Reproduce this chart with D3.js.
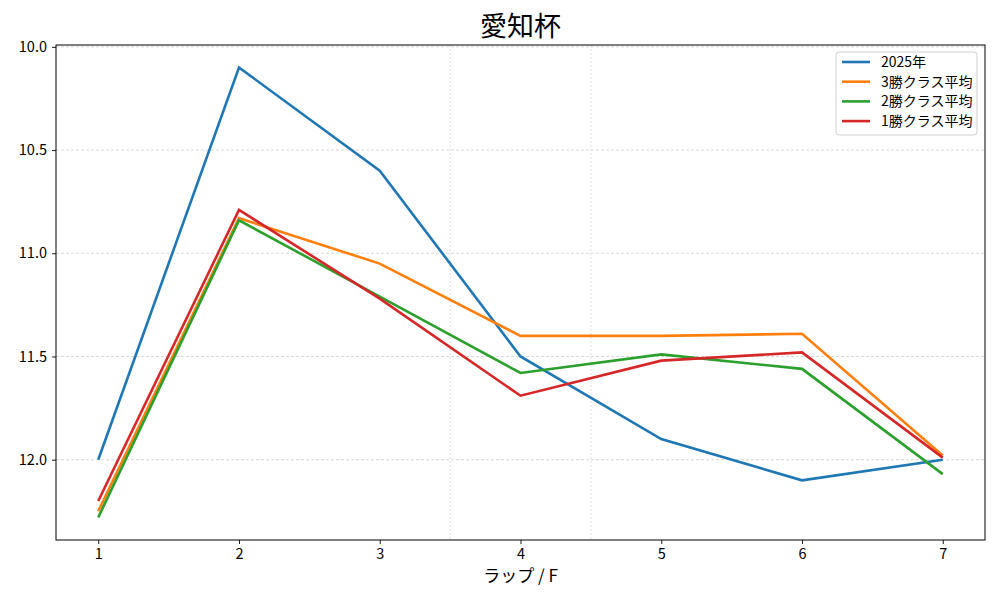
<!DOCTYPE html>
<html>
<head>
<meta charset="utf-8">
<script src="https://cdn.jsdelivr.net/npm/d3@7"></script>
<style>
  body { margin: 0; background: #fff; }
  text { font-family: "Noto Sans CJK JP", "DejaVu Sans", sans-serif; fill: #000; }
</style>
</head>
<body>
<div id="chart"></div>
<script>
var svgWidth = 1000;
var svgHeight = 600;

var margin = { top: 45, right: 15, bottom: 60, left: 56 };
var width = svgWidth - margin.left - margin.right;
var height = svgHeight - margin.top - margin.bottom;

// data
var laps = [1, 2, 3, 4, 5, 6, 7];
var seriesNames = ["2025年", "3勝クラス平均", "2勝クラス平均", "1勝クラス平均"];
var colors = ["#1f77b4", "#ff7f0e", "#2ca02c", "#d62728"];
var race2025 = [12.0, 10.1, 10.6, 11.5, 11.9, 12.1, 12.0];
var class3 = [12.25, 10.83, 11.05, 11.40, 11.40, 11.39, 11.98];
var class2 = [12.28, 10.84, 11.21, 11.58, 11.49, 11.56, 12.07];
var class1 = [12.20, 10.79, 11.22, 11.69, 11.52, 11.48, 11.99];
var yTicks = [10.0, 10.5, 11.0, 11.5, 12.0];
var sectionLines = [3.5, 4.5];

var allSeries = [race2025, class3, class2, class1];

var svg = d3.select("#chart")
  .append("svg")
  .attr("width", svgWidth)
  .attr("height", svgHeight);

var chartGroup = svg.append("g")
  .attr("transform", `translate(${margin.left}, ${margin.top})`);

// matplotlib style 5% padding
var xPad = (d3.max(laps) - d3.min(laps)) * 0.05;
var xScale = d3.scaleLinear()
  .domain([d3.min(laps) - xPad, d3.max(laps) + xPad])
  .range([0, width]);

var flat = [].concat(...allSeries);
var yMin = d3.min(flat), yMax = d3.max(flat);
var yPad = (yMax - yMin) * 0.05;
// inverted: small times at the top
var yScale = d3.scaleLinear()
  .domain([yMin - yPad, yMax + yPad])
  .range([0, height]);

// grid
chartGroup.append("g").selectAll("line.hgrid")
  .data(yTicks)
  .enter()
  .append("line")
  .attr("x1", 0)
  .attr("x2", width)
  .attr("y1", d => yScale(d))
  .attr("y2", d => yScale(d))
  .attr("stroke", "#b0b0b0")
  .attr("stroke-width", 0.5)
  .attr("stroke-dasharray", "3,2");

chartGroup.append("g").selectAll("line.vgrid")
  .data(sectionLines)
  .enter()
  .append("line")
  .attr("x1", d => xScale(d))
  .attr("x2", d => xScale(d))
  .attr("y1", 0)
  .attr("y2", height)
  .attr("stroke", "#c8c8c8")
  .attr("stroke-width", 0.6)
  .attr("stroke-dasharray", "2,2");

// lines
var line = d3.line()
  .x((d, i) => xScale(laps[i]))
  .y(d => yScale(d));

chartGroup.append("g").selectAll("path")
  .data(allSeries)
  .enter()
  .append("path")
  .attr("d", d => line(d))
  .attr("fill", "none")
  .attr("stroke", (d, i) => colors[i])
  .attr("stroke-width", 2.6)
  .attr("stroke-linejoin", "miter");

// axes
var bottomAxis = d3.axisBottom(xScale).tickValues(laps).tickFormat(d3.format("d")).tickSizeOuter(0).tickSize(4).tickPadding(5);
var leftAxis = d3.axisLeft(yScale).tickValues(yTicks).tickFormat(d3.format(".1f")).tickSizeOuter(0).tickSize(4).tickPadding(5);

var gx = chartGroup.append("g")
  .attr("transform", `translate(0, ${height})`)
  .call(bottomAxis);
var gy = chartGroup.append("g")
  .call(leftAxis);

[gx, gy].forEach(function(g) {
  g.select(".domain").remove();
  g.selectAll("text").attr("font-size", "14.5px").attr("fill", "#000");
  g.selectAll("line").attr("stroke", "#000").attr("stroke-width", 0.9);
});

chartGroup.append("rect")
  .attr("width", width)
  .attr("height", height)
  .attr("fill", "none")
  .attr("stroke", "#000")
  .attr("stroke-width", 1);

// title and label
svg.append("text")
  .attr("x", margin.left + width / 2)
  .attr("y", 36)
  .attr("text-anchor", "middle")
  .attr("font-size", "27px")
  .text("愛知杯");

chartGroup.append("text")
  .attr("x", width / 2)
  .attr("y", height + 42)
  .attr("text-anchor", "middle")
  .attr("font-size", "17px")
  .text("ラップ / F");

// legend
var legend = chartGroup.append("g")
  .attr("transform", `translate(${width - 149}, 7)`);

legend.append("rect")
  .attr("width", 141)
  .attr("height", 83)
  .attr("rx", 3)
  .attr("fill", "#fff")
  .attr("fill-opacity", 0.8)
  .attr("stroke", "#d0d0d0");

var items = legend.selectAll("g.item")
  .data(seriesNames)
  .enter()
  .append("g")
  .attr("transform", (d, i) => `translate(0, ${10 + i * 19.7})`);

items.append("line")
  .attr("x1", 6)
  .attr("x2", 34)
  .attr("stroke", (d, i) => colors[i])
  .attr("stroke-width", 2.6);

items.append("text")
  .attr("x", 45)
  .attr("dy", "0.35em")
  .attr("font-size", "14px")
  .text(d => d);
</script>
</body>
</html>
